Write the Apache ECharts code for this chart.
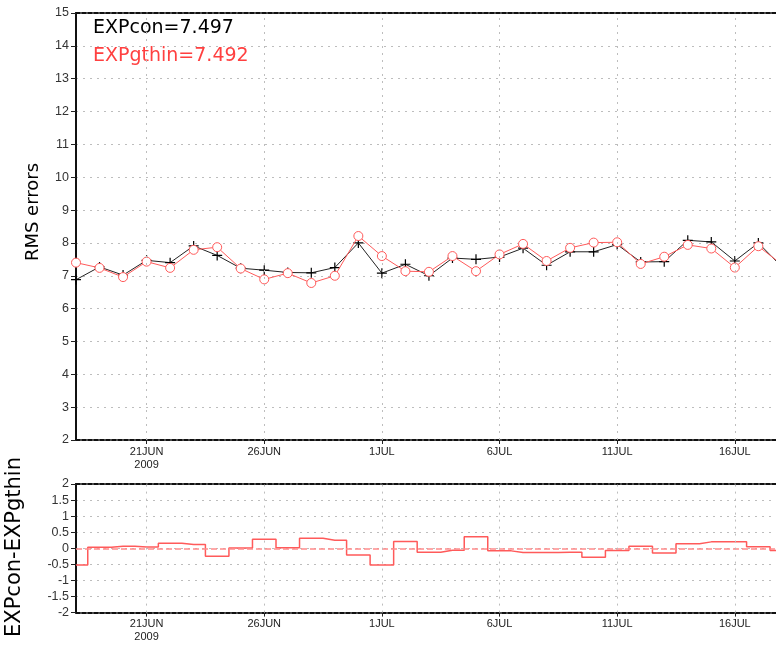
<!DOCTYPE html>
<html>
<head>
<meta charset="utf-8">
<title>RMS errors</title>
<script src="https://cdn.jsdelivr.net/npm/echarts@6/dist/echarts.min.js"></script>
<style>
  html, body { margin: 0; padding: 0; background: #fff; }
  #chart { width: 776px; height: 647px; }
</style>
</head>
<body>
<div id="chart"></div>
<script>
// Days counted from 18 JUN 2009 (day 0), one value per day.
const days = [0,1,2,3,4,5,6,7,8,9,10,11,12,13,14,15,16,17,18,19,20,21,22,23,24,25,26,27,28,29,30];
const tickDays = [3, 8, 13, 18, 23, 28];
const tickLabels = ['21JUN\n2009', '26JUN', '1JUL', '6JUL', '11JUL', '16JUL'];

const expCon = [6.88,7.27,7.02,7.47,7.40,7.91,7.62,7.23,7.17,7.10,
                7.09,7.25,8.00,7.08,7.35,7.00,7.54,7.50,7.57,7.84,
                7.32,7.73,7.73,7.95,7.42,7.43,8.08,8.03,7.45,8.00,7.27];
const expGthin = [7.40,7.24,6.96,7.43,7.24,7.79,7.87,7.22,6.89,7.08,
                  6.78,7.00,8.21,7.60,7.14,7.12,7.60,7.14,7.65,7.97,
                  7.45,7.85,8.01,8.02,7.36,7.58,7.94,7.83,7.25,7.90,7.34];
const diff = [-0.52,0.03,0.06,0.04,0.16,0.12,-0.25,0.01,0.28,0.02,
              0.31,0.25,-0.21,-0.52,0.21,-0.12,-0.06,0.36,-0.08,-0.13,
              -0.13,-0.12,-0.28,-0.07,0.06,-0.15,0.14,0.20,0.20,0.05,-0.07];
const meanText = ['EXPcon=7.497', 'EXPgthin=7.492'];
const titles = ['RMS errors', 'EXPcon-EXPgthin'];

const xMax = 29.75;
const labelFont = 'Liberation Sans, Arial, sans-serif';
const titleFont = '"DejaVu Sans", sans-serif';
const gridDot = { color: '#bdbdbd', width: 1, type: [2, 5] };
const frameDash = { color: '#111', width: 2, type: [4, 2] };
const red = '#ff5a5a';

function pairs(ys) { return days.map((d, i) => [d, ys[i]]); }

function dateAxis(gridIndex) {
  return {
    type: 'value', gridIndex, min: 0, max: xMax, position: 'bottom',
    axisLine: { show: true, onZero: false, lineStyle: frameDash },
    axisTick: { show: true, customValues: tickDays, length: 4, inside: false,
                lineStyle: { color: '#222', width: 1 } },
    axisLabel: {
      customValues: tickDays, margin: 5,
      color: '#222', fontFamily: labelFont, fontSize: 11, lineHeight: 13,
      formatter: v => tickLabels[tickDays.indexOf(v)] || ''
    },
    splitLine: { show: false }
  };
}
function topFrame(gridIndex) {
  return {
    type: 'value', gridIndex, min: 0, max: xMax, position: 'top',
    axisLine: { show: true, onZero: false, lineStyle: frameDash },
    axisTick: { show: false }, axisLabel: { show: false }, splitLine: { show: false }
  };
}
function valueAxis(gridIndex, min, max, interval) {
  return {
    type: 'value', gridIndex, min, max, interval,
    axisLine: { show: true, onZero: false, lineStyle: { color: '#111', width: 2 } },
    axisTick: { show: true, length: 5, lineStyle: { color: '#222' } },
    axisLabel: { color: '#333', fontFamily: labelFont, fontSize: 12.5, margin: 7 },
    splitLine: { show: true, lineStyle: gridDot }
  };
}
const vLines = {
  silent: true, symbol: 'none', label: { show: false },
  lineStyle: gridDot, emphasis: { disabled: true },
  data: tickDays.map(d => ({ xAxis: d }))
};

const chart = echarts.init(document.getElementById('chart'), null, { renderer: 'canvas' });
chart.setOption({
  animation: false,
  backgroundColor: '#fff',
  grid: [
    { left: 76, top: 13, width: 700, height: 427, containLabel: false, outerBoundsMode: 'none' },
    { left: 76, top: 484, width: 700, height: 128.6, containLabel: false, outerBoundsMode: 'none' }
  ],
  xAxis: [dateAxis(0), topFrame(0), dateAxis(1), topFrame(1)],
  yAxis: [valueAxis(0, 2, 15, 1), valueAxis(1, -2, 2, 0.5)],
  series: [
    {
      name: 'EXPcon', type: 'line', xAxisIndex: 0, yAxisIndex: 0,
      data: pairs(expCon), clip: true,
      lineStyle: { color: '#222', width: 1 },
      symbol: 'path://M4.4,0H5.6V4.4H10V5.6H5.6V10H4.4V5.6H0V4.4H4.4Z',
      symbolSize: 10, itemStyle: { color: '#000' },
      markLine: vLines, z: 3
    },
    {
      name: 'EXPgthin', type: 'line', xAxisIndex: 0, yAxisIndex: 0,
      data: pairs(expGthin), clip: true,
      lineStyle: { color: red, width: 1 },
      symbol: 'circle', symbolSize: 9, showAllSymbol: true,
      itemStyle: { color: '#fff', borderColor: red, borderWidth: 1 },
      z: 4
    },
    {
      name: 'EXPcon-EXPgthin', type: 'line', xAxisIndex: 2, yAxisIndex: 1,
      data: pairs(diff), step: 'middle', clip: true,
      symbol: 'none',
      lineStyle: { color: red, width: 1.5 },
      markLine: {
        silent: true, symbol: 'none', label: { show: false }, emphasis: { disabled: true },
        data: [
          { yAxis: 0, lineStyle: { color: '#ff8c8c', width: 1.5, type: [6, 3] } }
        ].concat(tickDays.map(d => ({ xAxis: d, lineStyle: gridDot })))
      },
      z: 3
    }
  ],
  graphic: [
    { type: 'text', left: 93, top: 19,
      style: { text: meanText[0], fill: '#000', font: '19px ' + titleFont } },
    { type: 'text', left: 93, top: 47,
      style: { text: meanText[1], fill: '#ff4040', font: '19px ' + titleFont } },
    { type: 'text', x: 33, y: 212, rotation: Math.PI / 2,
      style: { text: titles[0], fill: '#000', font: '18px ' + titleFont,
               textAlign: 'center', textVerticalAlign: 'middle' } },
    { type: 'text', x: 15, y: 547, rotation: Math.PI / 2,
      style: { text: titles[1], fill: '#000', font: '21px ' + titleFont,
               textAlign: 'center', textVerticalAlign: 'middle' } }
  ]
});
</script>
</body>
</html>
